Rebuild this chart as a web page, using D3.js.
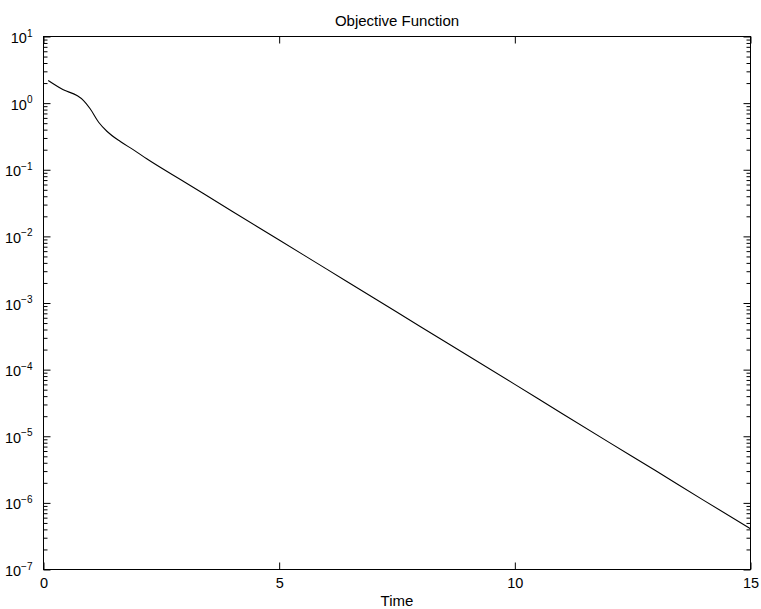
<!DOCTYPE html>
<html>
<head>
<meta charset="utf-8">
<script src="https://cdn.jsdelivr.net/npm/d3@7"></script>
<style>
  html, body { margin: 0; padding: 0; background: #fff; }
  svg { display: block; }
  text { font-family: "Liberation Sans", Arial, Helvetica, sans-serif; fill: #000; }
</style>
</head>
<body>
<svg id="chart" width="761" height="609"></svg>
<script>
// Objective function value over time (log scale)
const time = [0.1, 0.42, 0.71, 0.85, 0.99, 1.17, 1.35, 1.63, 1.91, 2.19,
              3, 4, 5, 6, 7, 8, 9, 10, 11, 12, 13, 14, 15];
const objective = [2.18, 1.585, 1.30, 1.094, 0.822, 0.516, 0.375, 0.265, 0.199, 0.146,
                   0.065, 0.0239, 0.00883, 0.00325, 0.0012, 4.4e-4, 1.63e-4, 6.0e-5,
                   2.2e-5, 8.1e-6, 3.0e-6, 1.1e-6, 4.1e-7];
const xTicks = [0, 5, 10, 15];
const yExponents = [-7, -6, -5, -4, -3, -2, -1, 0, 1];
const titleText = "Objective Function";
const xLabelText = "Time";

const svg = d3.select("#chart");
const plotLeft = 43.5, plotRight = 750.5, plotTop = 36.5, plotBottom = 569.5;

const x = d3.scaleLinear().domain([0, 15]).range([plotLeft, plotRight]);
const y = d3.scaleLog().domain([1e-7, 1e1]).range([plotBottom, plotTop]);

const majorY = yExponents.map(e => Math.pow(10, e));
const minorY = [];
yExponents.slice(0, -1).forEach(e => {
  for (let m = 2; m <= 9; m++) minorY.push(m * Math.pow(10, e));
});

const majorLen = 7, minorLen = 4;
const tickFont = 14.5, labelFont = 15;

function styleAxis(g) {
  g.select(".domain").remove();
  g.selectAll(".tick line").attr("stroke", "#000").attr("stroke-width", 1);
}

// Left axis: major ticks with 10^n labels
const leftAxis = svg.append("g").attr("transform", `translate(${plotLeft},0)`)
  .call(d3.axisLeft(y).tickValues(majorY).tickSize(-majorLen).tickPadding(11).tickFormat(() => ""))
  .call(styleAxis);
leftAxis.selectAll(".tick text").each(function(d) {
  const t = d3.select(this)
    .attr("font-size", tickFont)
    .attr("text-anchor", "end")
    .attr("dy", "0.42em");
  const e = Math.round(Math.log10(d));
  t.append("tspan").text("10");
  t.append("tspan").attr("font-size", 10).attr("dy", -6.5)
    .text(e < 0 ? "\u2212" + (-e) : String(e));
});
svg.append("g").attr("transform", `translate(${plotLeft},0)`)
  .call(d3.axisLeft(y).tickValues(minorY).tickSize(-minorLen).tickFormat(() => ""))
  .call(styleAxis);

// Right axis: mirrored ticks
svg.append("g").attr("transform", `translate(${plotRight},0)`)
  .call(d3.axisRight(y).tickValues(majorY).tickSize(-majorLen).tickFormat(() => ""))
  .call(styleAxis);
svg.append("g").attr("transform", `translate(${plotRight},0)`)
  .call(d3.axisRight(y).tickValues(minorY).tickSize(-minorLen).tickFormat(() => ""))
  .call(styleAxis);

// Bottom axis
svg.append("g").attr("transform", `translate(0,${plotBottom})`)
  .call(d3.axisBottom(x).tickValues(xTicks).tickSize(-majorLen).tickPadding(8).tickFormat(d3.format("d")))
  .call(styleAxis)
  .selectAll(".tick text").attr("font-size", tickFont);

// Top axis
svg.append("g").attr("transform", `translate(0,${plotTop})`)
  .call(d3.axisTop(x).tickValues(xTicks).tickSize(-majorLen).tickFormat(() => ""))
  .call(styleAxis);

// Plot frame
svg.append("rect")
  .attr("x", plotLeft).attr("y", plotTop)
  .attr("width", plotRight - plotLeft).attr("height", plotBottom - plotTop)
  .attr("fill", "none").attr("stroke", "#000").attr("stroke-width", 1);

// Curve
const pts = time.map((t, i) => [t, objective[i]]);
svg.append("path")
  .datum(pts)
  .attr("fill", "none")
  .attr("stroke", "#000")
  .attr("stroke-width", 1.1)
  .attr("d", d3.line().x(d => x(d[0])).y(d => y(d[1])).curve(d3.curveMonotoneX));

// Title and axis label
svg.append("text")
  .attr("x", (plotLeft + plotRight) / 2).attr("y", 25.5)
  .attr("text-anchor", "middle").attr("font-size", labelFont)
  .text(titleText);
svg.append("text")
  .attr("x", (plotLeft + plotRight) / 2).attr("y", 605.5)
  .attr("text-anchor", "middle").attr("font-size", labelFont)
  .text(xLabelText);
</script>
</body>
</html>
